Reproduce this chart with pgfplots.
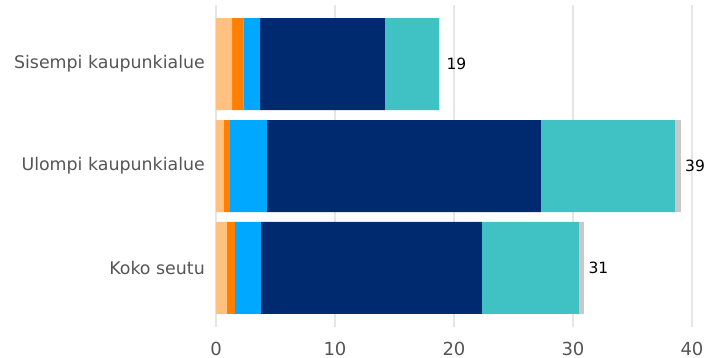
\documentclass[border=0pt]{standalone}
\usepackage{fontspec}
\setmainfont{DejaVu Sans}
\usepackage{pgfplots}
\pgfplotsset{compat=1.18}
\definecolor{c1}{HTML}{FFC080}
\definecolor{c2}{HTML}{FF8000}
\definecolor{c3}{HTML}{00A8FF}
\definecolor{c4}{HTML}{002A70}
\definecolor{c5}{HTML}{40C1C4}
\definecolor{c6}{HTML}{C8C8C8}
\definecolor{gridc}{HTML}{E6E6E6}
\definecolor{labc}{HTML}{555555}
\begin{document}
\begin{tikzpicture}
\useasboundingbox (-216bp,-31bp) rectangle (506bp,327bp);
\begin{axis}[
  at={(0,0)}, anchor=south west,
  scale only axis, width=476bp, height=322bp,
  xbar stacked, bar width=92bp,
  xmin=0, xmax=40, ymin=-0.58, ymax=2.58, y dir=reverse,
  xtick={0,10,20,30,40},
  ytick={0,1,2},
  yticklabels={Sisempi kaupunkialue, Ulompi kaupunkialue, Koko seutu},
  axis line style={draw=none},
  major tick length=0pt,
  xmajorgrids, ymajorgrids=false,
  grid style={gridc, line width=1.5bp},
  /pgf/number format/assume math mode=true,
  xticklabel style={font=\fontsize{18bp}{19bp}\selectfont, text=labc, inner sep=0pt, anchor=north, yshift=-14.5bp},
  yticklabel style={font=\fontsize{17.4bp}{19bp}\selectfont, text=labc, inner sep=0pt, anchor=east, xshift=-11bp},
  clip=false,
  every axis plot/.append style={draw=none},
]
\addplot[fill=c1] coordinates {(1.35,0) (0.67,1) (0.92,2)};
\addplot[fill=c2] coordinates {(0.95,0) (0.50,1) (0.67,2)};
\addplot[fill=c3] coordinates {(1.40,0) (3.11,1) (2.18,2)};
\addplot[fill=c4] coordinates {(10.50,0) (23.03,1) (18.57,2)};
\addplot[fill=c5] coordinates {(4.56,0) (11.26,1) (8.15,2)};
\addplot[fill=c6,
  point meta=explicit symbolic,
  nodes near coords={\pgfplotspointmeta},
  nodes near coords style={anchor=west, inner sep=0pt, xshift=7bp, text=black, font=\fontsize{15.5bp}{17bp}\selectfont},
] coordinates {(0.02,0) [19] (0.5,1) [39] (0.42,2) [31]};
\end{axis}
\end{tikzpicture}
\end{document}
